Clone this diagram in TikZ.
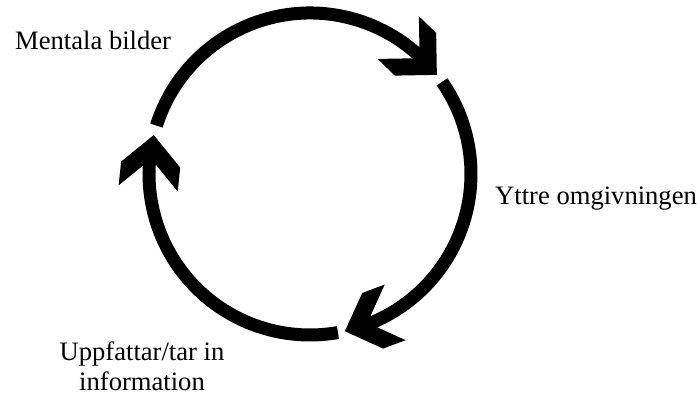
\documentclass[tikz,border=0pt]{standalone}
\usepackage{fontspec}
\setmainfont{Liberation Serif}
\tikzstyle{ring} = [line width=13pt, line cap=butt]
\tikzstyle{word} = [inner sep=0pt, font=\fontsize{26.6}{30}\selectfont]
\tikzset{chevron/.pic={\fill (0,0) -- (-29.7,29.7) -- (-53.7,29.7) -- (-24,0) -- (-53.7,-29.7) -- (-29.7,-29.7) -- cycle;}}

\begin{document}
\begin{tikzpicture}[x=1pt, y=1pt]
\useasboundingbox (0,0) rectangle (697,398);

\coordinate (c) at (310,224);

\node (mental) [word, anchor=base west] at (15,348) {Mentala bilder};
\node (outer) [word, anchor=base west] at (495,193) {Yttre omgivningen};
\node (perceive) [word, align=center, anchor=north] at (142,56) {Uppfattar/tar in\\information};

\draw [ring] ([shift={(162.5:161)}]c) arc [start angle=162.5, end angle=41.6, radius=161];
\draw [ring] ([shift={(34.9:161)}]c) arc [start angle=34.9, end angle=-73.9, radius=161];
\draw [ring] ([shift={(-80:161)}]c) arc [start angle=-80, end angle=-190.4, radius=161];

\pic [rotate=-44] at ([shift={(38:161)}]c) {chevron};
\pic [rotate=-159.5] at ([shift={(-77.5:161)}]c) {chevron};
\pic [rotate=84] at ([shift={(166:161)}]c) {chevron};

\end{tikzpicture}
\end{document}
